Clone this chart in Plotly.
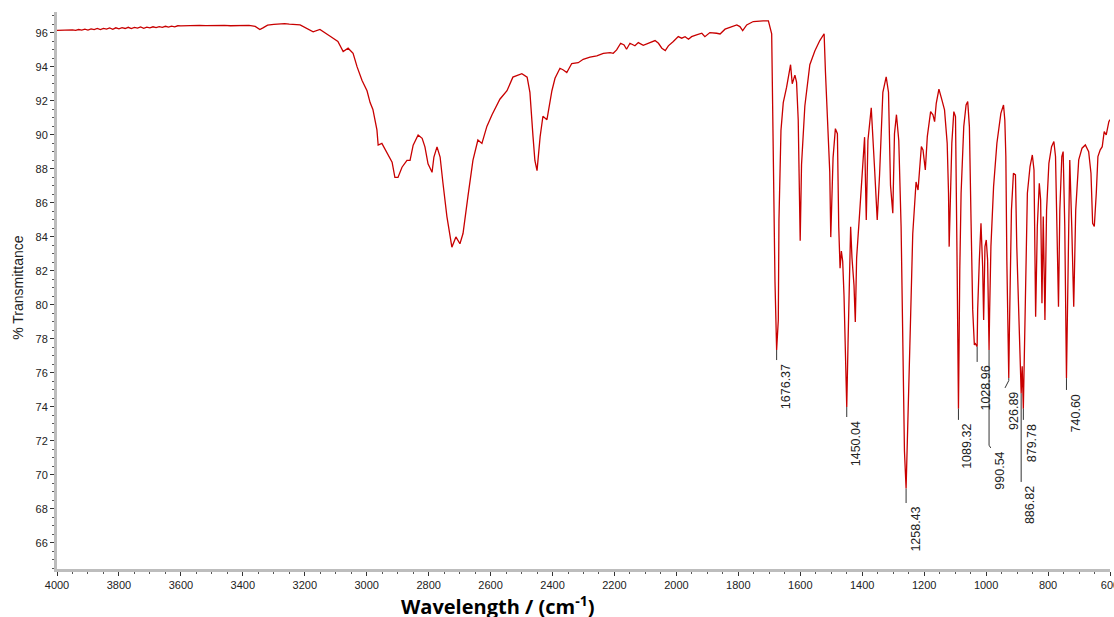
import plotly.graph_objects as go

# ---------------- data (wavenumber cm-1, %T) ----------------
base_wn = [4000, 3990, 3980, 3970, 3960, 3950, 3940, 3930, 3920, 3910, 3900, 3890, 3880, 3870,
           3860, 3850, 3840, 3830, 3820, 3810, 3800, 3790, 3780, 3770, 3760, 3750, 3740, 3730,
           3720, 3710, 3700, 3690, 3680, 3670, 3660, 3650, 3640, 3630, 3620, 3610, 3600, 3580,
           3560, 3540, 3520, 3500, 3480, 3460, 3440, 3420, 3400, 3380, 3360, 3345, 3335, 3320,
           3300, 3280, 3265, 3250, 3230, 3215]
base_t = [96.15, 96.16, 96.15, 96.17, 96.16, 96.18, 96.15, 96.20, 96.16, 96.22, 96.17, 96.24, 96.19, 96.26,
          96.20, 96.27, 96.22, 96.29, 96.21, 96.30, 96.24, 96.31, 96.26, 96.33, 96.25, 96.32, 96.28, 96.35,
          96.27, 96.34, 96.30, 96.36, 96.31, 96.37, 96.33, 96.39, 96.34, 96.40, 96.36, 96.42, 96.41, 96.43,
          96.42, 96.44, 96.43, 96.44, 96.43, 96.44, 96.42, 96.43, 96.42, 96.44, 96.38, 96.20, 96.30, 96.46,
          96.50, 96.52, 96.55, 96.52, 96.50, 96.47]

ch_wn = [3173, 3151, 3118, 3093, 3076, 3060, 3044, 3031, 3015, 2999, 2989, 2980, 2967, 2963, 2951,
         2931, 2918, 2909, 2899, 2886, 2870, 2860, 2850, 2834, 2821, 2812, 2802, 2789, 2783, 2773,
         2763, 2754, 2741, 2725, 2712, 2699, 2689, 2673, 2657, 2641, 2628, 2612, 2595, 2570, 2547,
         2528, 2499, 2482, 2473, 2463, 2457, 2450, 2440, 2431, 2418, 2402]
ch_t = [96.06, 96.2, 95.8, 95.5, 94.9, 95.1, 94.8, 94.0, 93.2, 92.6, 91.9, 91.5, 90.3, 89.4, 89.5,
        88.8, 88.4, 87.5, 87.5, 88.1, 88.5, 88.5, 89.4, 90.0, 89.8, 89.3, 88.3, 87.8, 88.7, 89.3,
        88.7, 87.2, 85.2, 83.4, 84.0, 83.6, 84.2, 86.4, 88.5, 89.7, 89.5, 90.5, 91.2, 92.1, 92.6,
        93.4, 93.6, 93.4, 92.5, 89.9, 88.5, 87.9, 89.9, 91.1, 90.9, 92.6]

mid_wn = [2392, 2376, 2365, 2354, 2338, 2317, 2301, 2279, 2257, 2236, 2214, 2204, 2193, 2180, 2169,
          2161, 2150, 2134, 2123, 2107, 2091, 2069, 2058, 2047, 2036, 2026, 2010, 1994, 1983, 1972,
          1961, 1951, 1935, 1918, 1908, 1892, 1870, 1859, 1843, 1822, 1805, 1795, 1786, 1773, 1763,
          1752, 1720, 1703]
mid_t = [93.33, 93.92, 93.82, 93.67, 94.2, 94.25, 94.45, 94.57, 94.65, 94.8, 94.84, 94.8, 95.0, 95.39, 95.29,
         95.04, 95.39, 95.24, 95.43, 95.27, 95.39, 95.55, 95.39, 95.1, 94.96, 95.24, 95.49, 95.78, 95.69, 95.78,
         95.63, 95.78, 95.88, 95.98, 95.78, 96.02, 95.98, 95.94, 96.22, 96.37, 96.47, 96.37, 96.14, 96.47, 96.57,
         96.67, 96.71, 96.71]

fp1_wn = [1692.4, 1687.1, 1681.7, 1676.4, 1671.0, 1668.9, 1662.4, 1655.0, 1644.2, 1631.4, 1626.0, 1617.4,
          1612.1, 1606.7, 1603.5, 1600.3, 1596.0, 1585.3, 1569.2, 1553.1, 1537.0, 1523.1, 1518.8, 1510.2,
          1504.9, 1501.6, 1494.2, 1486.7, 1480.2, 1475.9, 1471.6, 1467.4, 1463.1, 1458.8, 1454.5, 1450.0,
          1445.9, 1440.6, 1437.4, 1433.1, 1426.6, 1422.4, 1418.1, 1408.4, 1397.7, 1392.4, 1387.0, 1381.6,
          1370.9, 1365.5, 1360.2, 1351.6, 1344.1, 1333.4, 1322.7, 1315.2, 1308.7, 1301.3, 1295.9, 1289.5,
          1282.0, 1274.5, 1269.1, 1263.7, 1258.4, 1250.8, 1244.4, 1236.9, 1226.2]
fp1_t = [95.95, 88.04, 81.35, 77.35, 79.12, 85.0, 90.27, 91.9, 92.81, 94.13, 93.01, 93.52,
         93.11, 90.88, 86.22, 83.78, 88.25, 91.7, 94.13, 94.94, 95.55, 95.95, 93.72, 89.87,
         87.84, 83.99, 88.65, 90.37, 90.07, 84.6, 82.16, 83.17, 82.57, 80.54, 76.28, 74.0,
         77.7, 81.75, 84.6, 82.77, 81.15, 79.0, 82.77, 85.4, 88.25, 89.87, 85.0, 89.67,
         91.59, 90.07, 88.04, 85.0, 87.64, 92.51, 93.42, 92.51, 87.03, 85.4, 90.07, 91.19,
         89.67, 84.6, 76.48, 71.41, 69.2, 73.84, 78.9, 84.19, 87.23]

fp2_wn = [1219.8, 1209.1, 1203.8, 1196.3, 1189.9, 1179.2, 1171.7, 1166.3, 1161.0, 1152.4, 1142.8, 1134.3,
          1125.7, 1121.4, 1119.3, 1115.0, 1110.7, 1104.3, 1098.9, 1093.6, 1089.3, 1085.0, 1080.8, 1072.2,
          1064.7, 1059.4, 1054.0, 1048.7, 1043.3, 1038.0, 1035.8, 1029.0, 1027.3, 1021.9, 1016.6, 1011.2,
          1008.0, 1003.7, 999.5, 995.2, 990.5, 988.8, 984.5, 975.9, 965.2, 952.4, 943.8, 939.6,
          936.3, 933.1, 926.9, 924.6, 918.2, 911.8, 905.3, 901.0, 895.7, 890.3, 886.8, 883.5,
          879.8, 873.2, 866.8, 858.2, 850.8, 845.4, 840.1, 834.7, 828.3, 824.0, 819.7, 815.5,
          810.1, 804.8, 797.3, 788.7, 781.2, 775.9, 770.6, 766.3, 762.0, 755.6, 751.3, 746.0,
          740.6, 736.3, 729.9, 723.5, 717.1, 710.7, 701.0, 690.3, 679.6, 668.9, 661.4, 656.1,
          650.7, 644.3, 639.0, 631.5, 625.1, 618.7, 612.2, 603.7, 600.0]
fp2_t = [86.76, 89.31, 89.12, 87.94, 89.9, 91.37, 91.18, 90.78, 91.86, 92.69, 92.06, 91.47,
         89.51, 86.57, 83.43, 86.37, 89.51, 91.37, 91.08, 82.25, 73.9, 82.06, 86.57, 90.49,
         91.76, 91.96, 90.49, 85.0, 79.71, 77.65, 77.75, 77.55, 79.71, 82.65, 84.8, 82.25,
         79.12, 83.43, 83.82, 82.65, 77.35, 79.5, 83.43, 86.96, 89.51, 91.27, 91.76, 90.88,
         88.73, 82.65, 75.7, 78.73, 85.59, 87.75, 87.65, 83.43, 79.9, 76.76, 74.8, 76.4,
         73.9, 80.3, 86.57, 88.14, 88.82, 87.94, 79.31, 84.61, 87.16, 86.18, 80.1, 85.2,
         79.12, 85.59, 88.33, 89.31, 89.61, 88.73, 82.65, 79.9, 85.59, 88.73, 89.02, 84.61,
         75.7, 81.86, 88.53, 84.61, 79.9, 85.59, 88.53, 89.22, 89.41, 89.02, 87.75, 84.8,
         84.61, 86.57, 88.73, 89.12, 89.31, 90.2, 90.0, 90.78, 90.9]

# peak annotations: peak position, leader-line bend and label anchor (data units)
peak_wn = [1676.37, 1450.04, 1258.43, 1089.32, 1028.96, 990.54, 926.89, 886.82, 879.78, 740.60]
peak_labels = ["1676.37", "1450.04", "1258.43", "1089.32", "1028.96", "990.54", "926.89",
               "886.82", "879.78", "740.60"]
peak_t = [77.35, 74.0, 69.2, 73.9, 77.55, 77.35, 75.7, 74.8, 73.9, 75.7]
peak_bend_t = [76.76, 73.41, 68.35, 73.24, 76.65, 71.75, 75.55, 69.59, 73.24, 75.0]
label_wn = [1676.37, 1450.04, 1258.43, 1089.32, 1028.96, 985.0, 939.0, 886.82, 879.78, 740.60]
label_t = [76.76, 73.41, 68.35, 73.24, 76.65, 71.59, 75.12, 69.59, 73.24, 75.0]

x_ticks = list(range(4000, 599, -200))
y_ticks = list(range(66, 97, 2))

# ---------------- figure ----------------
wn = base_wn + ch_wn + mid_wn + fp1_wn + fp2_wn
tr = base_t + ch_t + mid_t + fp1_t + fp2_t

fig = go.Figure()
fig.add_trace(go.Scatter(x=wn, y=tr, mode="lines",
                         line=dict(color="#c80000", width=1.3), hoverinfo="skip"))

lx, ly = [], []
for w, a, bend, lw, lt in zip(peak_wn, peak_t, peak_bend_t, label_wn, label_t):
    lx += [w, w, lw, None]
    ly += [a, bend, lt, None]
fig.add_trace(go.Scatter(x=lx, y=ly, mode="lines",
                         line=dict(color="#333333", width=1), hoverinfo="skip"))

for lw, lt, txt in zip(label_wn, label_t, peak_labels):
    fig.add_annotation(x=lw, y=lt, text=txt, showarrow=False, textangle=-90,
                       xanchor="left", yanchor="top", xshift=0, yshift=-2,
                       font=dict(family="Liberation Sans, Arial", size=12.5, color="#222222"))

fig.add_annotation(xref="paper", yref="paper", x=-0.037, y=0.505, text="% Transmittance",
                   showarrow=False, textangle=-90, xanchor="center", yanchor="middle",
                   font=dict(family="Liberation Sans, Arial", size=14, color="#222222"))

fig.add_annotation(xref="paper", yref="paper", x=0.418, y=-0.066, xanchor="center", yanchor="middle",
                   text="<b>Wavelength / (cm<sup>-1</sup>)</b>", showarrow=False,
                   font=dict(family="Open Sans, Lato", size=20, color="#000000"))

fig.update_layout(
    width=1114, height=617,
    margin=dict(l=57, r=4, t=12, b=48, autoexpand=False),
    paper_bgcolor="white", plot_bgcolor="white",
    showlegend=False,
    xaxis=dict(range=[4000, 600], tickvals=x_ticks, ticktext=[str(v) for v in x_ticks],
               automargin=False, ticklabeloverflow="allow",
               showgrid=False, zeroline=False,
               showline=True, linecolor="#bdbdbd", linewidth=3,
               ticks="outside", ticklen=4, tickwidth=1, tickcolor="#333333",
               minor=dict(dtick=50, ticks="outside", ticklen=2, tickcolor="#555555", showgrid=False),
               tickfont=dict(family="Liberation Sans, Arial", size=11, color="#222222")),
    yaxis=dict(range=[64.47, 97.23], tickvals=y_ticks, ticktext=[str(v) for v in y_ticks],
               automargin=False,
               showgrid=False, zeroline=False,
               showline=True, linecolor="#bdbdbd", linewidth=3,
               ticks="outside", ticklen=4, tickwidth=1, tickcolor="#333333",
               minor=dict(dtick=0.5, ticks="outside", ticklen=2, tickcolor="#555555", showgrid=False),
               tickfont=dict(family="Liberation Sans, Arial", size=11, color="#222222")),
)

fig.write_html("out.html", config={"displayModeBar": False},
               post_script="document.body.style.margin='0';document.body.style.overflow='hidden';")
